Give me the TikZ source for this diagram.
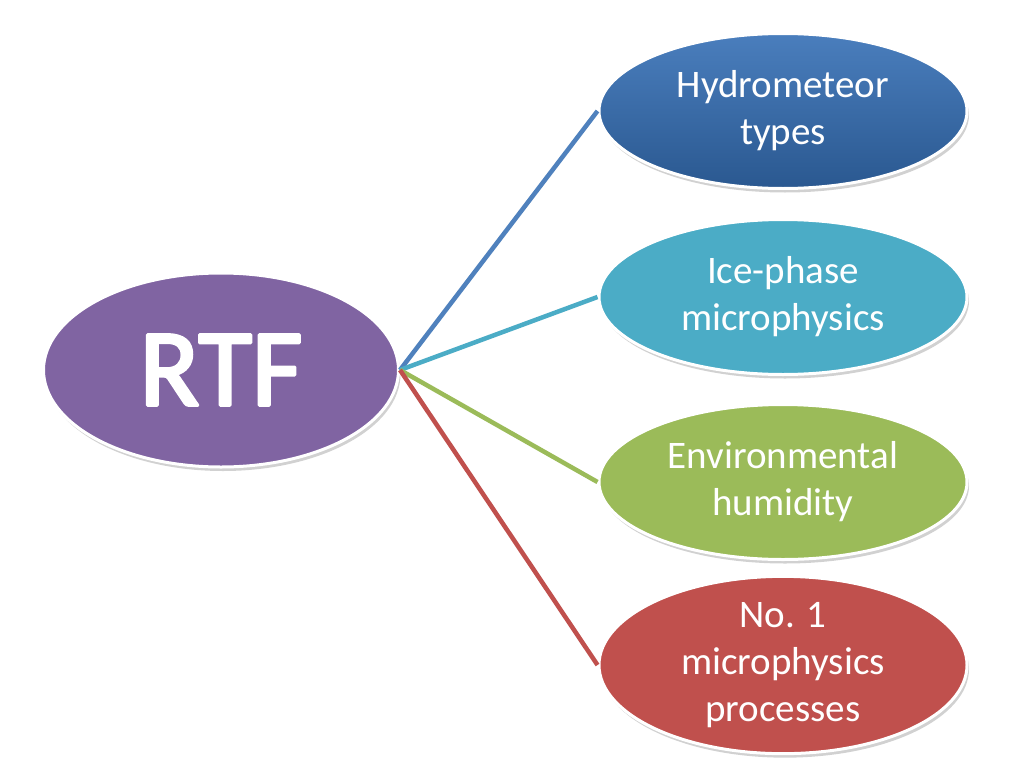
\documentclass[tikz,border=0pt]{standalone}
\usepackage{fontspec}
\setmainfont{Carlito}
\usetikzlibrary{shapes.geometric,shadows}
\definecolor{cpurple}{HTML}{8064A2}
\definecolor{cblue}{HTML}{4F81BD}
\definecolor{cbluetop}{HTML}{4A7EBD}
\definecolor{cbluebot}{HTML}{2A5890}
\definecolor{ccyan}{HTML}{4BACC6}
\definecolor{cgreen}{HTML}{9BBB59}
\definecolor{cred}{HTML}{C0504D}
\tikzset{
  bubble/.style={ellipse, draw=white, line width=3pt, inner sep=0pt,
    text=white, align=center,
    drop shadow={shadow xshift=2pt, shadow yshift=-4pt, fill=black, opacity=0.18}},
  leaf/.style={bubble, minimum width=368pt, minimum height=155pt,
    font=\fontsize{39}{47}\selectfont},
  link/.style={line width=4.5pt},
  rtftext/.style={font=\fontsize{110}{112}\selectfont}
}
\begin{document}
\begin{tikzpicture}[x=1pt,y=-1pt]
\useasboundingbox[fill=white] (0,0) rectangle (1024,768);
\node[bubble, fill=cpurple, minimum width=355pt, minimum height=194pt, rtftext] (rtf) at (221,370)
  {\special{pdf:literal direct 2 Tr 3.2 w 1 G 1 j}RTF\special{pdf:literal direct 0 Tr}};
\node[leaf, top color=cbluetop, bottom color=cbluebot] (h) at (783,111) {Hydrometeor\\types};
\node[leaf, fill=ccyan] (i) at (783,297) {Ice-phase\\microphysics};
\node[leaf, fill=cgreen] (e) at (783,482) {Environmental\\humidity};
\node[leaf, fill=cred] (n) at (783,665) {No. 1\\microphysics\\processes};
\draw[link, cblue] (rtf.east) -- (h.west);
\draw[link, ccyan] (rtf.east) -- (i.west);
\draw[link, cgreen] (rtf.east) -- (e.west);
\draw[link, cred] (rtf.east) -- (n.west);
\end{tikzpicture}
\end{document}
